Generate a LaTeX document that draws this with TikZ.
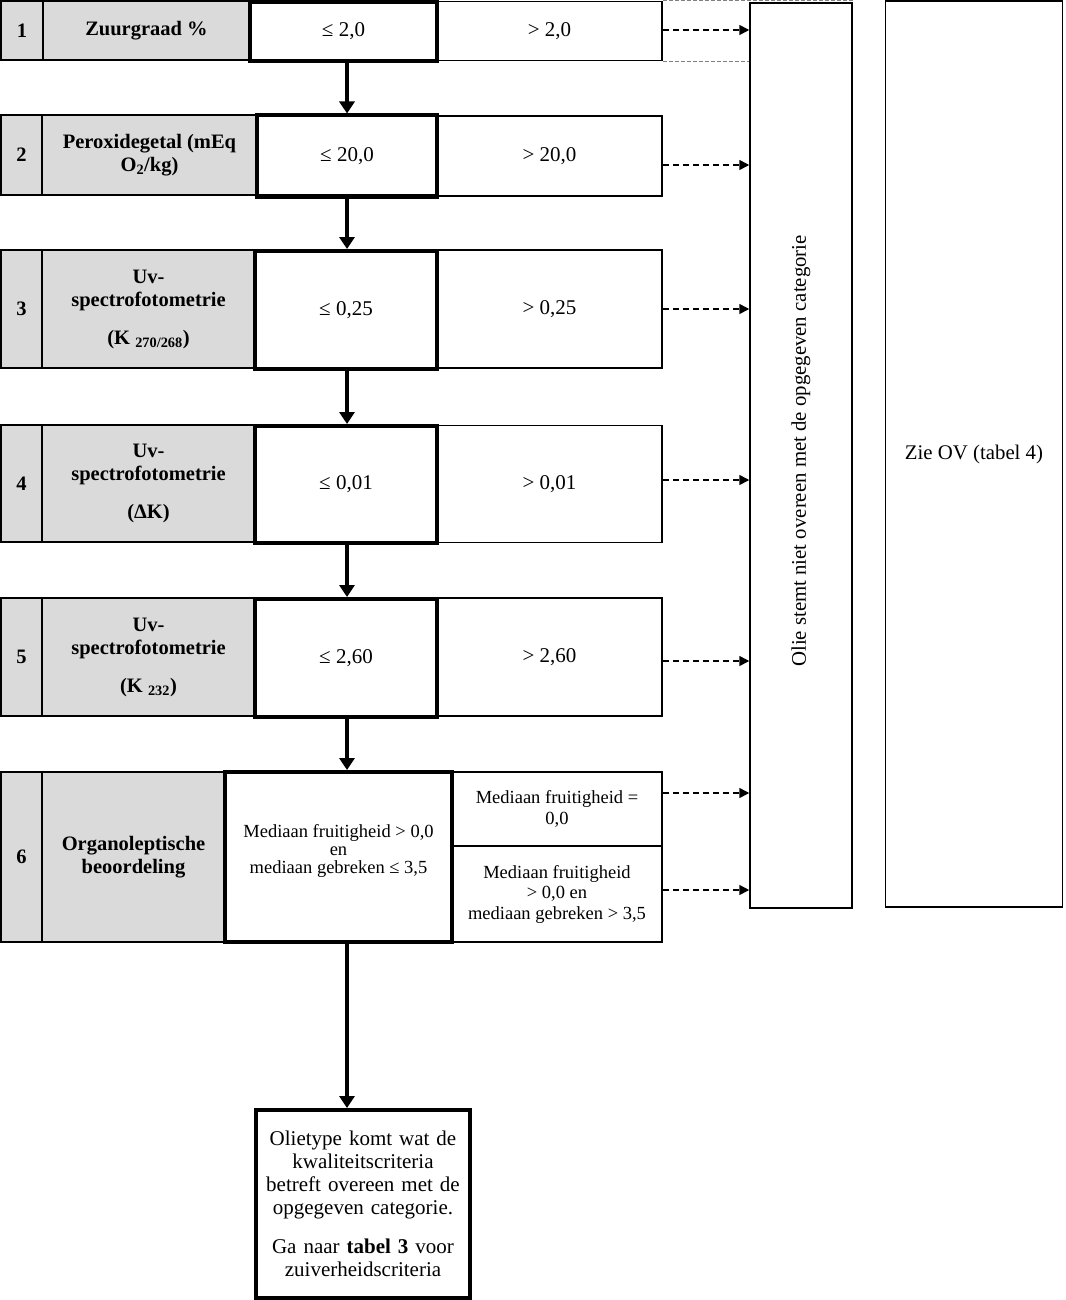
\documentclass[tikz,border=0pt]{standalone}
\usepackage{fontspec}
\setmainfont{Liberation Serif}
\usetikzlibrary{arrows.meta}
\definecolor{cellgray}{RGB}{218,218,218}
\begin{document}
\begin{tikzpicture}[x=1pt,y=-1pt,
  cell/.style={draw, line width=1.5pt, inner sep=2pt, align=center, font=\fontsize{21}{23}\selectfont},
  graycell/.style={cell, fill=cellgray, font=\bfseries\fontsize{20.5}{23}\selectfont},
  lecell/.style={cell, line width=4pt},
  sixc/.style={font=\fontsize{18.5}{18}\selectfont},
  sixr/.style={font=\fontsize{18.5}{20.5}\selectfont},
  bigarrow/.style={line width=4pt, -{Triangle[width=15pt,length=12pt]}},
  dasharrow/.style={line width=1.5pt, dash pattern=on 6pt off 4pt, -{Triangle[width=10pt,length=10pt]}},
  graydash/.style={line width=1pt, gray, dash pattern=on 4pt off 2pt},
  bigbox/.style={draw, line width=1.5pt}
]
\useasboundingbox (0,0) rectangle (1065,1300);

% right boxes
\node[bigbox, minimum width=102pt, minimum height=905pt] (vbox) at (801,455.5) {};
\node[rotate=90, font=\fontsize{20.8}{24}\selectfont] (vtext) at (801,451) {Olie stemt niet overeen met de opgegeven categorie};
\node[bigbox, minimum width=177pt, minimum height=906pt, font=\fontsize{20.8}{24}\selectfont] (ov) at (974,454) {Zie OV (tabel 4)};

% row 1
\node[graycell, minimum width=42pt, minimum height=59pt] (n1) at (22,30.5) {1};
\node[graycell, minimum width=207pt, minimum height=59pt] (l1) at (146.5,30.5) {Zuurgraad \%};
\node[cell, minimum width=225pt, minimum height=59pt] (g1) at (549.5,31) {> 2,0};
\node[lecell, minimum width=187pt, minimum height=59pt] (le1) at (343.5,31.5) {≤ 2,0};

% row 2
\node[graycell, minimum width=41pt, minimum height=80pt] (n2) at (21.5,155) {2};
\node[graycell, minimum width=215pt, minimum height=80pt] (l2) at (149.5,155) {Peroxidegetal (mEq\\O\textsubscript{2}/kg)};
\node[cell, minimum width=225pt, minimum height=80pt] (g2) at (549.5,156) {> 20,0};
\node[lecell, minimum width=180pt, minimum height=81pt] (le2) at (347,156) {≤ 20,0};

% row 3
\node[graycell, minimum width=41pt, minimum height=118pt] (n3) at (21.5,309) {3};
\node[graycell, minimum width=213pt, minimum height=118pt] (l3) at (148.5,309) {Uv-\\spectrofotometrie\\[15pt](K \textsubscript{270/268})};
\node[cell, minimum width=225pt, minimum height=118pt] (g3) at (549.5,309) {> 0,25};
\node[lecell, minimum width=182pt, minimum height=118pt] (le3) at (346,310) {≤ 0,25};

% row 4
\node[graycell, minimum width=41pt, minimum height=117pt] (n4) at (21.5,483.5) {4};
\node[graycell, minimum width=213pt, minimum height=117pt] (l4) at (148.5,483.5) {Uv-\\spectrofotometrie\\[15pt](ΔK)};
\node[cell, minimum width=225pt, minimum height=117pt] (g4) at (549.5,484) {> 0,01};
\node[lecell, minimum width=182pt, minimum height=117pt] (le4) at (346,484.5) {≤ 0,01};

% row 5
\node[graycell, minimum width=41pt, minimum height=118pt] (n5) at (21.5,657) {5};
\node[graycell, minimum width=213pt, minimum height=118pt] (l5) at (148.5,657) {Uv-\\spectrofotometrie\\[15pt](K \textsubscript{232})};
\node[cell, minimum width=225pt, minimum height=118pt] (g5) at (549.5,657) {> 2,60};
\node[lecell, minimum width=182pt, minimum height=118pt] (le5) at (346,658) {≤ 2,60};

% row 6
\node[graycell, minimum width=41pt, minimum height=170pt] (n6) at (21.5,857) {6};
\node[graycell, minimum width=183pt, minimum height=170pt] (l6) at (133.5,857) {Organoleptische\\beoordeling};
\node[cell, sixr, minimum width=210pt, minimum height=74pt] (r6a) at (557,809) {Mediaan fruitigheid =\\0,0};
\node[cell, sixr, minimum width=210pt, minimum height=96pt] (r6b) at (557,894) {Mediaan fruitigheid\\> 0,0 en\\mediaan gebreken > 3,5};
\node[lecell, sixc, minimum width=227pt, minimum height=170pt] (le6) at (338.5,857) {Mediaan fruitigheid > 0,0\\en\\mediaan gebreken ≤ 3,5\\[-2pt]\mbox{}};

% final box
\node[lecell, minimum width=214pt, minimum height=188pt, text width=206pt, font=\fontsize{21}{23}\selectfont] (fin) at (363,1204)
  {Olietype komt wat de\\kwaliteitscriteria\\betreft overeen met de\\opgegeven categorie.\\[16pt]Ga naar \textbf{tabel 3} voor\\zuiverheidscriteria};

% vertical flow arrows
\coordinate (ax) at (347,0);
\draw[bigarrow] (le1.south -| ax) -- (le2.north -| ax);
\draw[bigarrow] (le2.south -| ax) -- (le3.north -| ax);
\draw[bigarrow] (le3.south -| ax) -- (le4.north -| ax);
\draw[bigarrow] (le4.south -| ax) -- (le5.north -| ax);
\draw[bigarrow] (le5.south -| ax) -- (le6.north -| ax);
\draw[bigarrow] (le6.south -| ax) -- (fin.north -| ax);

% dashed arrows
\draw[dasharrow] ([yshift=1pt]g1.east) -- ([yshift=1pt]g1.east -| vbox.west);
\draw[dasharrow] ([yshift=-9pt]g2.east) -- ([yshift=-9pt]g2.east -| vbox.west);
\draw[dasharrow] (g3.east) -- (g3.east -| vbox.west);
\draw[dasharrow] ([yshift=4pt]g4.east) -- ([yshift=4pt]g4.east -| vbox.west);
\draw[dasharrow] ([yshift=-4pt]g5.east) -- ([yshift=-4pt]g5.east -| vbox.west);
\draw[dasharrow] ([yshift=16pt]r6a.east) -- ([yshift=16pt]r6a.east -| vbox.west);
\draw[dasharrow] ([yshift=4pt]r6b.east) -- ([yshift=4pt]r6b.east -| vbox.west);

% gray dashed table edges
\draw[graydash] (g1.north east) -- (g1.north east -| vbox.east);
\draw[graydash] (g1.south east) -- (g1.south east -| vbox.west);
\end{tikzpicture}
\end{document}
